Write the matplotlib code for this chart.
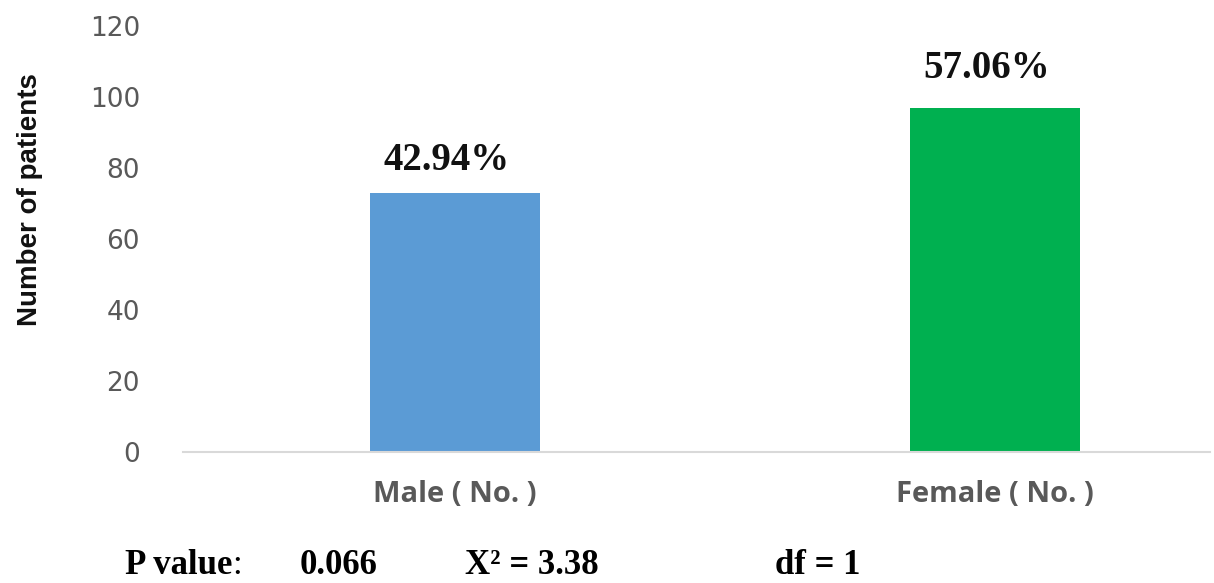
import matplotlib.pyplot as plt

# data
categories = ["Male ( No. )", "Female ( No. )"]
patients = [73, 97]
percent_labels = ["42.94%", "57.06%"]
bar_colors = ["#5B9BD5", "#00B050"]
y_ticks = [0, 20, 40, 60, 80, 100, 120]

fig = plt.figure(figsize=(12.14, 5.83), dpi=100)
ax = fig.add_axes([0.1507, 0.2247, 0.846, 0.7307])

x = range(len(categories))
bars = ax.bar(x, patients, width=0.315, color=bar_colors, zorder=2)

ax.set_xlim(-0.504, 1.398)
ax.set_ylim(0, 120)
ax.set_yticks(y_ticks)
ax.set_yticklabels([str(t) for t in y_ticks], fontsize=19, color="#595959",
                   family="DejaVu Sans")
ax.tick_params(axis="y", length=0, pad=31)
ax.set_xticks(list(x))
ax.set_xticklabels(categories, fontsize=21, color="#595959", fontweight="bold",
                   family="Open Sans")
ax.tick_params(axis="x", length=0, pad=20)

for s in ["top", "right", "left"]:
    ax.spines[s].set_visible(False)
ax.spines["bottom"].set_color("#d9d9d9")
ax.spines["bottom"].set_linewidth(1.5)

# percentage labels above bars
offsets = [9, 11]
for b, lab, off in zip(bars, percent_labels, offsets):
    ax.text(b.get_x() + b.get_width() / 2 - 0.015, b.get_height() + off, lab,
            ha="center", va="center", fontsize=28, fontweight="bold",
            family="Liberation Serif", color="#111111")

fig.text(30 / 1214, 1 - 200 / 583, "Number of patients", rotation=90,
         ha="center", va="center", fontsize=20, fontweight="bold",
         family="Liberation Sans", color="#111111")

# footer statistics
foot_y = 1 - 565 / 583
pv = fig.text(125 / 1214, foot_y, "P value", fontsize=25, fontweight="bold",
              family="Liberation Serif", va="center")
ax.annotate(":", xy=(1, 0.5), xycoords=pv, va="center", fontsize=25,
            family="Liberation Serif")
fig.text(300 / 1214, foot_y, "0.066", fontsize=25, fontweight="bold",
         family="Liberation Serif", va="center")
fig.text(465 / 1214, foot_y, "X² = 3.38", fontsize=25, fontweight="bold",
         family="Liberation Serif", va="center")
fig.text(775 / 1214, foot_y, "df = 1", fontsize=25, fontweight="bold",
         family="Liberation Serif", va="center")

plt.savefig("out.png", dpi=100)
